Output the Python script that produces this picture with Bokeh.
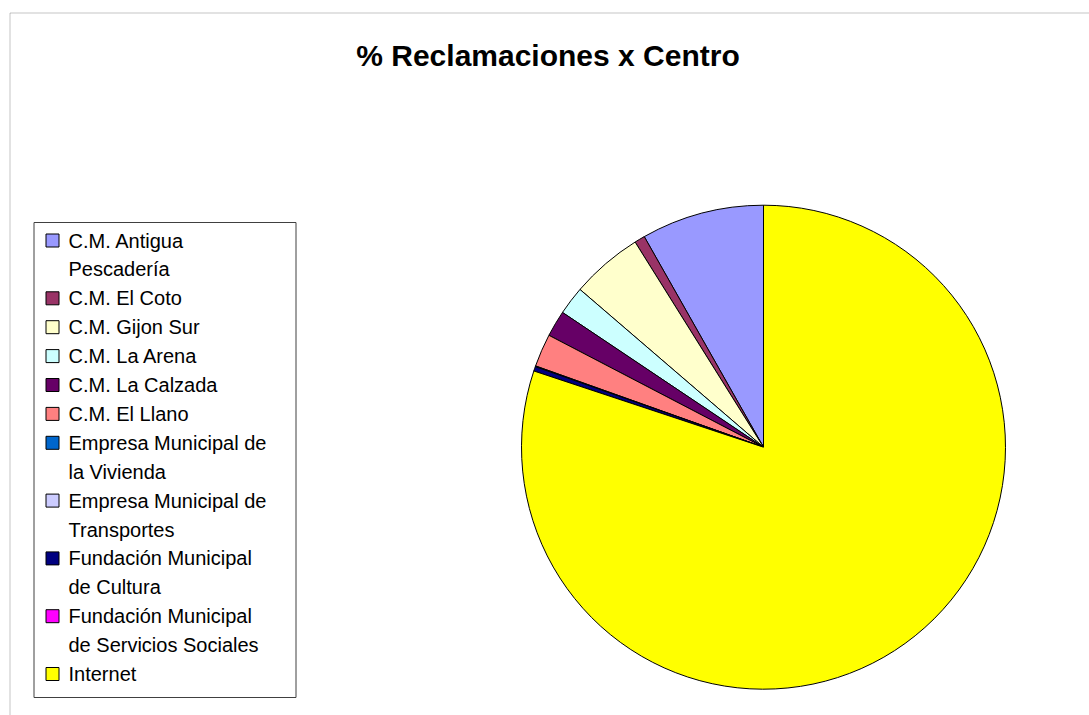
import math
from bokeh.plotting import figure
from bokeh.models import ColumnDataSource, Range1d, BoxAnnotation
from bokeh.core.properties import value
from bokeh.embed import file_html
from bokeh.resources import INLINE

title_text = "% Reclamaciones x Centro"
categories = [
    "C.M. Antigua Pescadería",
    "C.M. El Coto",
    "C.M. Gijon Sur",
    "C.M. La Arena",
    "C.M. La Calzada",
    "C.M. El Llano",
    "Empresa Municipal de la Vivienda",
    "Empresa Municipal de Transportes",
    "Fundación Municipal de Cultura",
    "Fundación Municipal de Servicios Sociales",
    "Internet",
]
legend_lines = [
    ["C.M. Antigua", "Pescadería"],
    ["C.M. El Coto"],
    ["C.M. Gijon Sur"],
    ["C.M. La Arena"],
    ["C.M. La Calzada"],
    ["C.M. El Llano"],
    ["Empresa Municipal de", "la Vivienda"],
    ["Empresa Municipal de", "Transportes"],
    ["Fundación Municipal", "de Cultura"],
    ["Fundación Municipal", "de Servicios Sociales"],
    ["Internet"],
]
values = [8.2, 0.7, 4.8, 1.9, 1.75, 2.2, 0.05, 0.0, 0.3, 0.0, 80.1]
colors = ["#9999FF", "#993366", "#FFFFCC", "#CCFFFF", "#660066", "#FF8080",
          "#0066CC", "#CCCCFF", "#000080", "#FF00FF", "#FFFF00"]

W, H = 1089, 715
FONT = "Liberation Sans"

p = figure(width=W, height=H, output_backend="svg", toolbar_location=None,
           x_range=Range1d(0, W), y_range=Range1d(0, H),
           min_border=0, outline_line_color=None)
p.xaxis.visible = False
p.yaxis.visible = False
p.grid.visible = False
p.background_fill_color = "white"
p.border_fill_color = "white"

# chart frame
p.add_layout(BoxAnnotation(left=9.5, right=W + 20, top=H - 12.5, bottom=-20,
                           fill_alpha=0, line_color="#404040", line_width=1))

# pie (slices with zero share are not drawn)
total = sum(values)
starts, ends, cols, names = [], [], [], []
acc = 0.0
for v, c, n in zip(values, colors, categories):
    s = math.pi / 2 + 2 * math.pi * acc / total
    acc += v
    e = math.pi / 2 + 2 * math.pi * acc / total
    if v > 0:
        starts.append(s)
        ends.append(e)
        cols.append(c)
        names.append(n)
src = ColumnDataSource(dict(start=starts, end=ends, color=cols, name=names))
p.wedge(x=763, y=H - 446.7, radius=242, start_angle="start", end_angle="end",
        direction="anticlock", fill_color="color", line_color="black",
        line_width=1, source=src)

# title
p.text(x=[547.5], y=[H - 55], text=[title_text], text_font=value(FONT),
       text_font_style="bold", text_font_size="30px", text_align="center",
       text_baseline="alphabetic", text_color="black")

# legend
p.quad(left=[33.5], right=[295.5], top=[H - 222], bottom=[H - 697], fill_color="white",
       line_color="#404040", line_width=1)
line_step = 28.9
first_line_y = H - 240
sw_x, sw_y, sw_c = [], [], []
tx, ty, tt = [], [], []
i = 0
for lines, c in zip(legend_lines, colors):
    sw_x.append(52)
    sw_y.append(first_line_y - i * line_step)
    sw_c.append(c)
    for ln in lines:
        tx.append(68)
        ty.append(first_line_y - i * line_step)
        tt.append(ln)
        i += 1
p.rect(x=sw_x, y=sw_y, width=13, height=13, fill_color=sw_c,
       line_color="black", line_width=1)
p.text(x=tx, y=ty, text=tt, text_font=value(FONT), text_font_size="20px",
       text_align="left", text_baseline="middle", text_color="black")

open("out.html", "w").write(file_html(p, INLINE))
